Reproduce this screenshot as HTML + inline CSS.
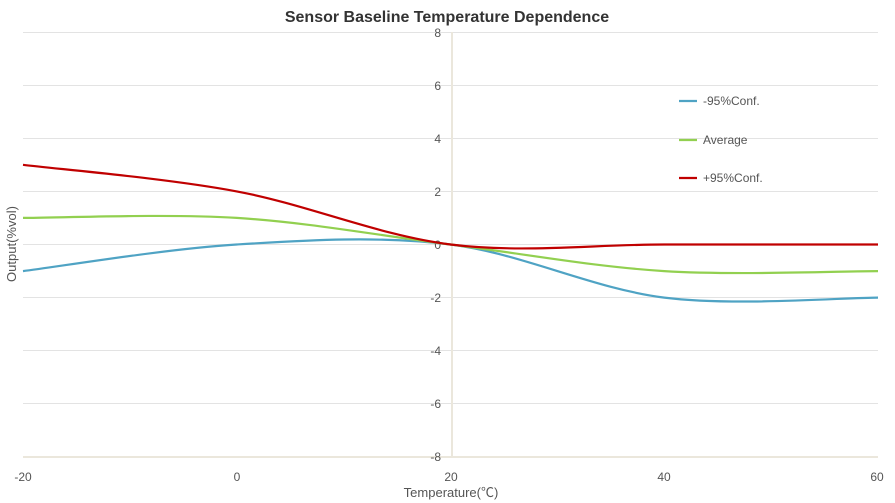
<!DOCTYPE html><html><head><meta charset="utf-8"><style>body{margin:0;background:#fff}svg{display:block}text{font-family:"Liberation Sans","Noto Sans CJK SC",sans-serif}</style></head><body>
<svg width="895" height="503" viewBox="0 0 895 503">
<text x="447" y="22" text-anchor="middle" font-size="16" font-weight="bold" fill="#333">Sensor Baseline Temperature Dependence</text>
<g stroke="#e3e3e3" stroke-width="1">
<line x1="23" x2="878" y1="32.5" y2="32.5"/><line x1="23" x2="878" y1="85.5" y2="85.5"/><line x1="23" x2="878" y1="138.5" y2="138.5"/><line x1="23" x2="878" y1="191.5" y2="191.5"/><line x1="23" x2="878" y1="244.5" y2="244.5"/><line x1="23" x2="878" y1="297.5" y2="297.5"/><line x1="23" x2="878" y1="350.5" y2="350.5"/><line x1="23" x2="878" y1="403.5" y2="403.5"/>
</g>
<line x1="23" x2="878" y1="457" y2="457" stroke="#ebe7dc" stroke-width="2"/>
<line x1="452" x2="452" y1="32" y2="457" stroke="#ebe7dc" stroke-width="2"/>
<g font-size="12" fill="#555" text-anchor="end">
<text x="441" y="37">8</text><text x="441" y="90">6</text><text x="441" y="143">4</text><text x="441" y="196">2</text><text x="441" y="249">0</text><text x="441" y="302">-2</text><text x="441" y="355">-4</text><text x="441" y="408">-6</text><text x="441" y="461">-8</text>
</g>
<g font-size="12" fill="#555" text-anchor="middle">
<text x="23" y="481">-20</text><text x="237" y="481">0</text><text x="451" y="481">20</text><text x="664" y="481">40</text><text x="877" y="481">60</text>
</g>
<text x="451" y="497" text-anchor="middle" font-size="13" fill="#555">Temperature(℃)</text>
<text transform="translate(16,244) rotate(-90)" text-anchor="middle" font-size="13" fill="#555">Output(%vol)</text>
<g fill="none" stroke-width="2.2">
<path stroke="#4fa3c4" d="M23,271.1 C58.6,266.7 165.5,248.9 236.75,244.5 C308,240.1 379.25,235.65 450.5,244.5 C521.75,253.35 593,288.75 664.25,297.6 C735.5,306.45 842.4,297.6 878,297.6"/>
<path stroke="#92d050" d="M23,217.9 C58.6,217.9 165.5,213.5 236.75,217.9 C308,222.3 379.25,235.6 450.5,244.5 C521.75,253.4 593,266.7 664.25,271.1 C735.5,275.5 842.4,271.1 878,271.1"/>
<path stroke="#c00000" d="M23,164.8 C58.6,169.2 165.5,178.1 236.75,191.4 C308,204.7 379.25,235.65 450.5,244.5 C521.75,253.35 593,244.5 664.25,244.5 L878,244.5"/>
<line x1="679" x2="697" y1="101" y2="101" stroke="#4fa3c4"/>
<line x1="679" x2="697" y1="140" y2="140" stroke="#92d050"/>
<line x1="679" x2="697" y1="178" y2="178" stroke="#c00000"/>
</g>
<g font-size="12" fill="#555">
<text x="703" y="105">-95%Conf.</text><text x="703" y="144">Average</text><text x="703" y="182">+95%Conf.</text>
</g>
</svg></body></html>
